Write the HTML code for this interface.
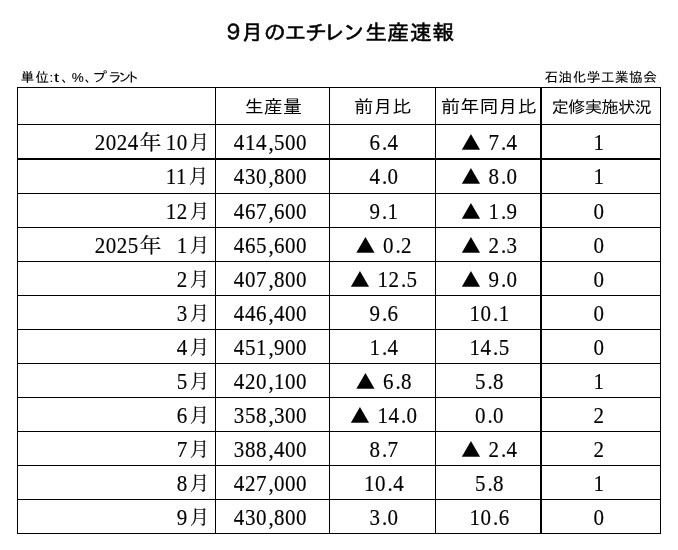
<!DOCTYPE html>
<html lang="ja">
<head>
<meta charset="utf-8">
<title>9月のエチレン生産速報</title>
<style>
html,body{margin:0;padding:0;background:#fff;}
body{width:678px;height:550px;position:relative;overflow:hidden;color:#000;}
.g{font-family:"Liberation Sans","IPAGothic",sans-serif;}
h1,p{margin:0;padding:0;font-weight:normal;}
.t{position:absolute;white-space:nowrap;line-height:1;}
.title{font-size:22px;-webkit-text-stroke:0.55px #000;transform:scaleY(0.965);transform-origin:0 50%;}
.title span{display:inline-block;text-align:center;}
.small{font-size:13.5px;-webkit-text-stroke:0.12px #000;}
.small span{display:inline-block;}
.small .x{transform:scaleX(1.35);transform-origin:0 50%;}
.small .y{transform:scaleX(1.12);transform-origin:0 50%;}
table{position:absolute;left:17px;top:87px;width:644px;table-layout:fixed;border-collapse:separate;border-spacing:0;border-left:1px solid #000;border-top:1px solid #000;}
th,td{position:relative;box-sizing:border-box;height:34px;padding:0;margin:0;border:0 solid #000;border-right-width:1px;border-bottom-width:1px;font-weight:normal;text-align:left;vertical-align:top;overflow:visible;}
th{height:37px;}
tr.k td{height:35px;border-bottom-width:2px;}
.c3{border-right-width:2px;}
.hdr{font-size:19px;text-align:center;transform:scaleY(0.94);transform-origin:50% 50%;}
.d{font-family:"Liberation Serif","Noto Serif CJK SC",serif;font-size:21.0px;letter-spacing:0.55px;transform:scaleY(1.095);transform-origin:0 17.59px;-webkit-text-stroke:0.15px #000;}
.d i{font-style:normal;display:inline-block;width:7.0px;text-align:center;letter-spacing:0;position:relative;left:0.5px;}
.d s{text-decoration:none;display:inline-block;vertical-align:top;height:21px;width:5.5px;letter-spacing:0;white-space:pre;overflow:hidden;}
.d s.w{width:11.05px;}
.d b{font-weight:normal;display:inline-block;vertical-align:top;height:21px;line-height:21px;width:21.3px;text-align:center;letter-spacing:0;font-size:21px;position:relative;top:0.3px;left:1.0px;transform:scale(1.03,0.895);transform-origin:50% 80%;-webkit-text-stroke:0.2px #000;}
.d b.m{transform:scale(0.91,0.86);transform-origin:50% 80%;left:1.3px;top:-0.7px;}
.d u{text-decoration:none;display:inline-block;vertical-align:top;height:21px;width:21.3px;text-align:center;letter-spacing:0;font-family:"Noto Sans CJK JP",sans-serif;font-size:19.4px;line-height:21px;position:relative;top:-2.2px;left:-1.3px;transform:scaleY(0.9132);transform-origin:50% 80%;-webkit-text-stroke:0;}
</style>
</head>
<body>
<h1 class="t g title" style="left:222.4px;top:22.2px"><span style="width:18.2px">９</span><span style="width:23.1px">月</span><span style="width:20.8px">の</span><span style="width:20.5px">エ</span><span style="width:18.3px">チ</span><span style="width:19.3px">レ</span><span style="width:22.5px">ン</span><span style="width:21.9px">生</span><span style="width:22.6px">産</span><span style="width:22.6px">速</span><span style="width:22.4px">報</span></h1>
<p class="t g small" style="left:20.7px;top:70.5px"><span style="letter-spacing:1.4px">単</span><span style="letter-spacing:0.4px">位</span><span style="letter-spacing:0.8px">:</span><span class="x" style="letter-spacing:3.7px">t</span><span style="letter-spacing:-3.4px">、</span><span style="letter-spacing:1px">%</span><span style="letter-spacing:-6px">、</span><span class="y" style="letter-spacing:2.4px">プ</span><span style="letter-spacing:-3.5px">ラ</span><span style="letter-spacing:-5.5px">ン</span><span style="letter-spacing:0px">ト</span></p>
<p class="t g small" style="left:544.5px;top:70.5px;letter-spacing:0.6px">石油化学工業協会</p>
<table>
<thead>
<tr><th style="width:198px"></th><th style="width:114px"><span class="t g hdr" style="left:0.8px;width:113px;top:9px;letter-spacing:0.2px;">生産量</span></th><th style="width:106px"><span class="t g hdr" style="left:0.5px;width:105px;top:9px;letter-spacing:0.2px;">前月比</span></th><th class="c3" style="width:106px"><span class="t g hdr" style="left:1px;width:104px;top:9px;letter-spacing:0.2px;">前年同月比</span></th><th style="width:119px"><span class="t g hdr" style="left:0.3px;width:118px;top:11px;font-size:17.5px;letter-spacing:-0.9px;">定修実施状況</span></th></tr>
</thead>
<tbody>
<tr class="k"><td><span class="t d" style="left:76.7px;top:7.81px">2024<b>年</b><s> </s>10<b class="m">月</b></span></td><td><span class="t d" style="left:17.85px;top:7.81px">414<i>,</i>500</span></td><td><span class="t d" style="left:39.55px;top:7.81px">6<i>.</i>4</span></td><td class="c3"><span class="t d" style="left:25.65px;top:7.81px"><u>▲</u><s> </s>7<i>.</i>4</span></td><td><span class="t d" style="left:51.48px;top:7.81px">1</span></td></tr>
<tr><td><span class="t d" style="left:147.7px;top:6.81px">11<b class="m">月</b></span></td><td><span class="t d" style="left:17.85px;top:6.81px">430<i>,</i>800</span></td><td><span class="t d" style="left:39.55px;top:6.81px">4<i>.</i>0</span></td><td class="c3"><span class="t d" style="left:25.65px;top:6.81px"><u>▲</u><s> </s>8<i>.</i>0</span></td><td><span class="t d" style="left:51.48px;top:6.81px">1</span></td></tr>
<tr><td><span class="t d" style="left:147.7px;top:7.81px">12<b class="m">月</b></span></td><td><span class="t d" style="left:17.85px;top:7.81px">467<i>,</i>600</span></td><td><span class="t d" style="left:39.55px;top:7.81px">9<i>.</i>1</span></td><td class="c3"><span class="t d" style="left:25.65px;top:7.81px"><u>▲</u><s> </s>1<i>.</i>9</span></td><td><span class="t d" style="left:51.48px;top:7.81px">0</span></td></tr>
<tr><td><span class="t d" style="left:76.7px;top:7.81px">2025<b>年</b><s> </s><s class="w"> </s>1<b class="m">月</b></span></td><td><span class="t d" style="left:17.85px;top:7.81px">465<i>,</i>600</span></td><td><span class="t d" style="left:26.15px;top:7.81px"><u>▲</u><s> </s>0<i>.</i>2</span></td><td class="c3"><span class="t d" style="left:25.65px;top:7.81px"><u>▲</u><s> </s>2<i>.</i>3</span></td><td><span class="t d" style="left:51.48px;top:7.81px">0</span></td></tr>
<tr><td><span class="t d" style="left:158.75px;top:7.81px">2<b class="m">月</b></span></td><td><span class="t d" style="left:17.85px;top:7.81px">407<i>,</i>800</span></td><td><span class="t d" style="left:20.62px;top:7.81px"><u>▲</u><s> </s>12<i>.</i>5</span></td><td class="c3"><span class="t d" style="left:25.65px;top:7.81px"><u>▲</u><s> </s>9<i>.</i>0</span></td><td><span class="t d" style="left:51.48px;top:7.81px">0</span></td></tr>
<tr><td><span class="t d" style="left:158.75px;top:7.81px">3<b class="m">月</b></span></td><td><span class="t d" style="left:17.85px;top:7.81px">446<i>,</i>400</span></td><td><span class="t d" style="left:39.55px;top:7.81px">9<i>.</i>6</span></td><td class="c3"><span class="t d" style="left:33.53px;top:7.81px">10<i>.</i>1</span></td><td><span class="t d" style="left:51.48px;top:7.81px">0</span></td></tr>
<tr><td><span class="t d" style="left:158.75px;top:7.81px">4<b class="m">月</b></span></td><td><span class="t d" style="left:17.85px;top:7.81px">451<i>,</i>900</span></td><td><span class="t d" style="left:39.55px;top:7.81px">1<i>.</i>4</span></td><td class="c3"><span class="t d" style="left:33.53px;top:7.81px">14<i>.</i>5</span></td><td><span class="t d" style="left:51.48px;top:7.81px">0</span></td></tr>
<tr><td><span class="t d" style="left:158.75px;top:7.81px">5<b class="m">月</b></span></td><td><span class="t d" style="left:17.85px;top:7.81px">420<i>,</i>100</span></td><td><span class="t d" style="left:26.15px;top:7.81px"><u>▲</u><s> </s>6<i>.</i>8</span></td><td class="c3"><span class="t d" style="left:39.05px;top:7.81px">5<i>.</i>8</span></td><td><span class="t d" style="left:51.48px;top:7.81px">1</span></td></tr>
<tr><td><span class="t d" style="left:158.75px;top:7.81px">6<b class="m">月</b></span></td><td><span class="t d" style="left:17.85px;top:7.81px">358<i>,</i>300</span></td><td><span class="t d" style="left:20.62px;top:7.81px"><u>▲</u><s> </s>14<i>.</i>0</span></td><td class="c3"><span class="t d" style="left:39.05px;top:7.81px">0<i>.</i>0</span></td><td><span class="t d" style="left:51.48px;top:7.81px">2</span></td></tr>
<tr><td><span class="t d" style="left:158.75px;top:7.81px">7<b class="m">月</b></span></td><td><span class="t d" style="left:17.85px;top:7.81px">388<i>,</i>400</span></td><td><span class="t d" style="left:39.55px;top:7.81px">8<i>.</i>7</span></td><td class="c3"><span class="t d" style="left:25.65px;top:7.81px"><u>▲</u><s> </s>2<i>.</i>4</span></td><td><span class="t d" style="left:51.48px;top:7.81px">2</span></td></tr>
<tr><td><span class="t d" style="left:158.75px;top:7.81px">8<b class="m">月</b></span></td><td><span class="t d" style="left:17.85px;top:7.81px">427<i>,</i>000</span></td><td><span class="t d" style="left:34.03px;top:7.81px">10<i>.</i>4</span></td><td class="c3"><span class="t d" style="left:39.05px;top:7.81px">5<i>.</i>8</span></td><td><span class="t d" style="left:51.48px;top:7.81px">1</span></td></tr>
<tr><td><span class="t d" style="left:158.75px;top:7.81px">9<b class="m">月</b></span></td><td><span class="t d" style="left:17.85px;top:7.81px">430<i>,</i>800</span></td><td><span class="t d" style="left:39.55px;top:7.81px">3<i>.</i>0</span></td><td class="c3"><span class="t d" style="left:33.53px;top:7.81px">10<i>.</i>6</span></td><td><span class="t d" style="left:51.48px;top:7.81px">0</span></td></tr>
</tbody>
</table>
</body>
</html>
